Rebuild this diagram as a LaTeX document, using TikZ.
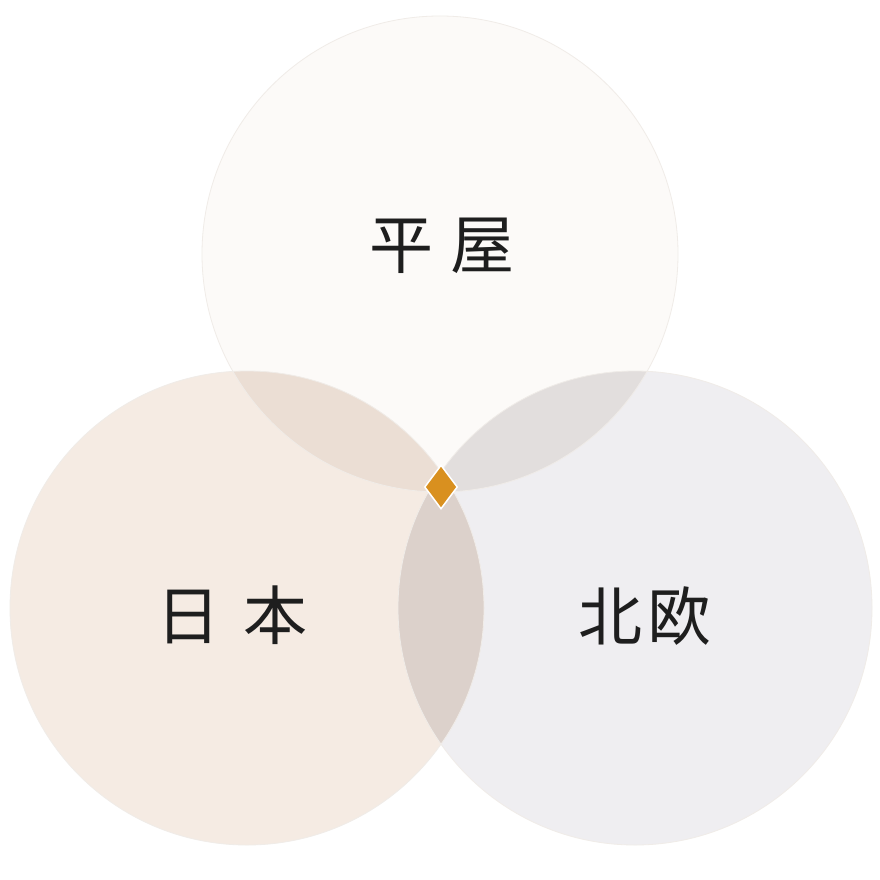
\documentclass[tikz,border=0pt]{standalone}
\usepackage{fontspec}
\newfontfamily\cjk{Noto Sans CJK JP}
\usetikzlibrary{shapes.geometric}
\definecolor{ctop}{HTML}{FCFAF8}
\definecolor{cleft}{HTML}{F5EBE3}
\definecolor{cright}{HTML}{EFEEF1}
\definecolor{otl}{HTML}{EBDED4}
\definecolor{otr}{HTML}{E2DEDD}
\definecolor{olr}{HTML}{DCD1CB}
\definecolor{oall}{HTML}{D8CDC7}
\definecolor{edge}{HTML}{F0ECE8}
\definecolor{gold}{HTML}{D9901F}
\definecolor{ink}{HTML}{1E1E1E}
\tikzset{
  lbl/.style={font=\cjk\fontsize{64}{64}\selectfont, text=ink, inner sep=0pt},
  rim/.style={draw=edge, line width=0.8pt}
}
\begin{document}
\begin{tikzpicture}[x=1pt,y=-1pt]
\useasboundingbox (0,0) rectangle (880,880);
\fill[white] (0,0) rectangle (880,880);
\def\T{(440,254) circle (238)}
\def\L{(247,608) circle (237)}
\def\R{(635,608) circle (237)}
\fill[ctop] \T;
\fill[cleft] \L;
\fill[cright] \R;
\begin{scope}\clip \T; \fill[otl] \L; \fill[otr] \R; \end{scope}
\begin{scope}\clip \L; \fill[olr] \R; \end{scope}
\begin{scope}\clip \T; \clip \L; \fill[oall] \R; \end{scope}
\draw[rim] \T;
\draw[rim] \L;
\draw[rim] \R;
\node[lbl] (top) at (442,246) {平\hspace{0.28em}屋};
\node[lbl] (left) at (232,615) {日\hspace{0.35em}本};
\node[lbl] (right) at (645,616) {北\hspace{0.08em}欧};
\node[diamond, fill=gold, draw=white, line width=1.5pt, minimum width=33pt, minimum height=44pt, inner sep=0pt] (center) at (441,487) {};
\end{tikzpicture}
\end{document}
